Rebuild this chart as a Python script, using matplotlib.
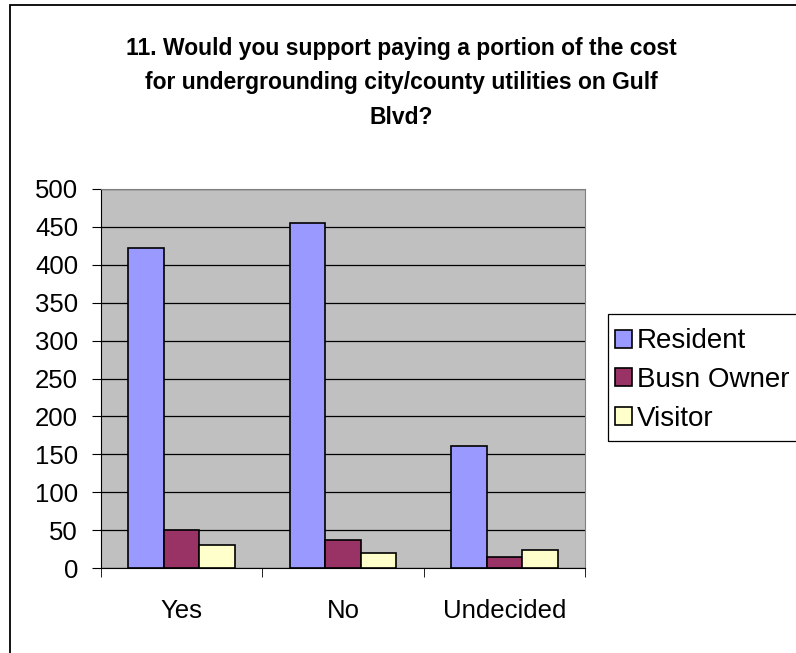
import numpy as np
import matplotlib.pyplot as plt
from matplotlib.patches import Rectangle

categorias = ['Yes', 'No', 'Undecided']
residente = [422, 455, 161]
dueno_negocio = [50, 37, 15]
visitante = [31, 20, 24]
series = ['Resident', 'Busn Owner', 'Visitor']
colores = ['#9999FF', '#993366', '#FFFFCC']

lineas_titulo = ['11. Would you support paying a portion of the cost',
                 'for undergrounding city/county utilities on Gulf',
                 'Blvd?']

plt.rcParams['font.family'] = ['Liberation Sans', 'DejaVu Sans']

W, H = 796, 653
fig = plt.figure(figsize=(W / 100, H / 100), dpi=100)

# marco exterior (solo se ven los bordes izquierdo y superior)
fig.patches.append(Rectangle((9.5 / W, -0.1), 2, 1.1 - 5 / H,
                             transform=fig.transFigure, fill=False,
                             edgecolor='black', linewidth=1.3))

ax = fig.add_axes([101 / W, 1 - 568 / H, (585 - 101) / W, (568 - 189) / H])
ax.set_facecolor('#C0C0C0')

x = np.arange(len(categorias))
ancho = 0.22
for i, (valores, nombre, color) in enumerate(zip([residente, dueno_negocio, visitante], series, colores)):
    ax.bar(x + (i - 1) * ancho, valores, ancho, color=color, edgecolor='black',
           linewidth=1.2, label=nombre, zorder=3)

ax.set_xlim(-0.5, len(categorias) - 0.5)
ax.set_ylim(0, 500)
ax.set_yticks(np.arange(0, 501, 50))
ax.yaxis.grid(True, color='black', linewidth=0.9, zorder=0)
ax.set_axisbelow(True)

ax.set_xticks(x)
ax.set_xticklabels(categorias, fontsize=18.5)
ax.set_xticks(np.arange(-0.5, len(categorias)), minor=True)
ax.tick_params(axis='x', which='major', length=0, pad=22)
ax.tick_params(axis='x', which='minor', length=6.5, direction='out', color='black')
ax.tick_params(axis='y', length=6.5, direction='out', labelsize=18.5, pad=10)

for lado in ['top', 'right']:
    ax.spines[lado].set_color('#808080')
for lado in ['left', 'bottom']:
    ax.spines[lado].set_color('black')

for y_px, linea in zip([48, 83, 117], lineas_titulo):
    fig.text(401 / W, 1 - y_px / H, linea, ha='center', va='center',
             fontsize=16.5, fontweight='bold')

# caja de la leyenda, cortada por el borde derecho
fig.patches.append(Rectangle((607.5 / W, 1 - 441 / H), 300 / W, (441 - 314) / H,
                             transform=fig.transFigure, fill=False,
                             edgecolor='black', linewidth=0.9))
fig.legend(loc='center left', bbox_to_anchor=(615 / W, 1 - 380 / H),
           frameon=False, fontsize=20, handlelength=0.6, handleheight=0.6,
           handletextpad=0.2, labelspacing=0.45, borderaxespad=0, borderpad=0)

plt.savefig('out.png', dpi=100)
